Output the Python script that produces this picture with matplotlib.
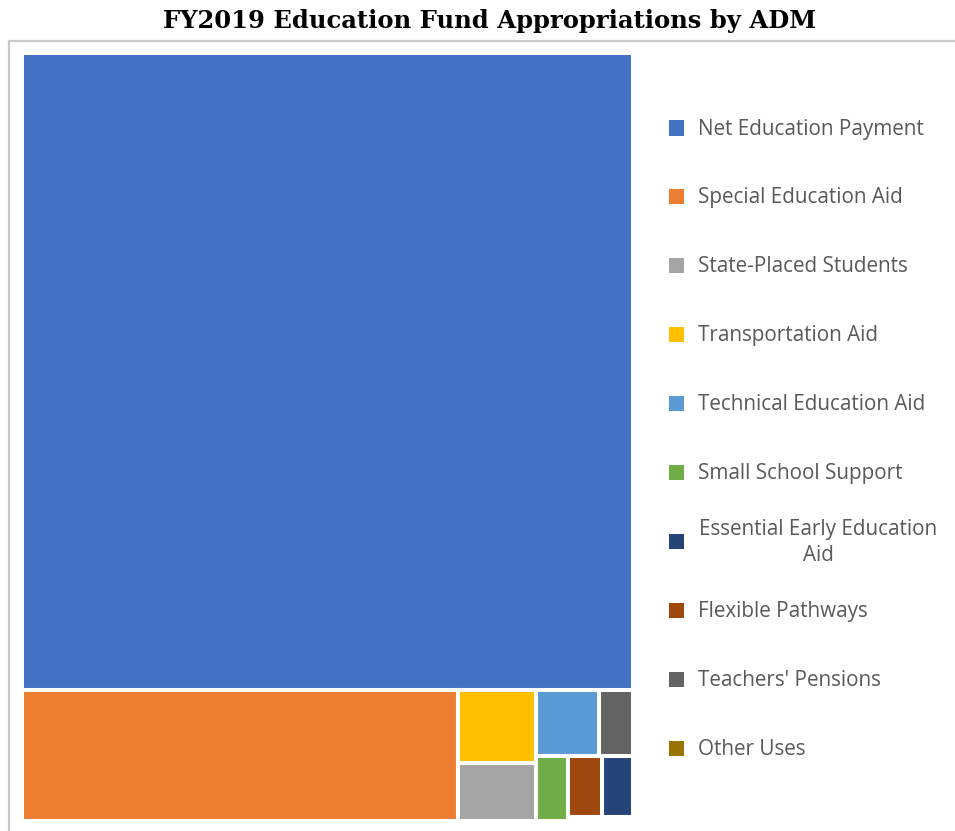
import matplotlib
matplotlib.use("Agg")
import matplotlib.pyplot as plt
from matplotlib.patches import Rectangle
from matplotlib.lines import Line2D

# ---- data (estimated, $ millions) ----
categories = [
    "Net Education Payment",
    "Special Education Aid",
    "State-Placed Students",
    "Transportation Aid",
    "Technical Education Aid",
    "Small School Support",
    "Essential Early Education Aid",
    "Flexible Pathways",
    "Teachers' Pensions",
    "Other Uses",
]
values = [1333.0, 194.4, 15.3, 19.5, 14.0, 7.1, 6.4, 7.2, 7.5, 0.66]
legend_labels = [
    "Net Education Payment",
    "Special Education Aid",
    "State-Placed Students",
    "Transportation Aid",
    "Technical Education Aid",
    "Small School Support",
    "Essential Early Education\nAid",
    "Flexible Pathways",
    "Teachers' Pensions",
    "Other Uses",
]
colors = ["#4472C4", "#ED7D31", "#A5A5A5", "#FFC000", "#5B9BD5",
          "#70AD47", "#264478", "#9E480E", "#636363", "#997300"]

# layout tree: ('v' = stack top->bottom, 'h' = left->right), leaves are indices
layout = ('v', [0,
                ('h', [1,
                       ('v', [3, 2]),
                       ('v', [('h', [4, 8]),
                              ('h', [5,
                                     ('v', [('h', [7, 6]), 9])])])])])


def total(node):
    if isinstance(node, int):
        return values[node]
    return sum(total(c) for c in node[1])


def place(node, x, y, w, h, out):
    if isinstance(node, int):
        out[node] = (x, y, w, h)
        return
    kind, children = node
    s = total(node)
    pos = 0.0
    for c in children:
        f = total(c) / s
        if kind == 'v':
            place(c, x, y + pos * h, w, f * h, out)
        else:
            place(c, x + pos * w, y, f * w, h, out)
        pos += f


rects = {}
place(layout, 0.0, 0.0, 1.0, 1.0, rects)

W, H = 955, 831
fig = plt.figure(figsize=(W / 100, H / 100), dpi=100)
fig.patch.set_facecolor("white")

# outer frame
fig.add_artist(Line2D([9 / W, 9 / W], [0, 1 - 41 / H], color="#C9C9C9", lw=1.6))
fig.add_artist(Line2D([9 / W, 1], [1 - 41 / H, 1 - 41 / H], color="#C9C9C9", lw=1.6))

# treemap axes
x0, x1 = 21.5, 632.5
y0, y1 = 52.5, 820.5
ax = fig.add_axes([x0 / W, 1 - y1 / H, (x1 - x0) / W, (y1 - y0) / H])
ax.set_xlim(0, 1)
ax.set_ylim(1, 0)
ax.axis("off")
for i in range(len(categories)):
    rx, ry, rw, rh = rects[i]
    ax.add_patch(Rectangle((rx, ry), rw, rh, facecolor=colors[i],
                           edgecolor="white", linewidth=2.9, clip_on=False))

# title
fig.text(490 / W, 1 - 21 / H, "FY2019 Education Fund Appropriations by ADM",
         ha="center", va="center", fontsize=17.5, fontweight="bold",
         family="DejaVu Serif", color="black")

# legend
top_y = 128
pitch = 68.9
fs = 14.9
for i, lab in enumerate(legend_labels):
    cy = top_y + i * pitch
    fig.add_artist(Rectangle(((676 - 7.5) / W, 1 - (cy + 7.5) / H), 15 / W, 15 / H,
                             facecolor=colors[i], edgecolor="none",
                             transform=fig.transFigure))
    if "\n" in lab:
        fig.text(818 / W, 1 - (cy + 1) / H, lab, ha="center", va="center",
                 multialignment="center", fontsize=fs, family="Open Sans",
                 color="#595959", linespacing=1.3)
    else:
        fig.text(698 / W, 1 - (cy + 1) / H, lab, ha="left", va="center",
                 fontsize=fs, family="Open Sans", color="#595959")

fig.savefig("out.png", dpi=100, facecolor="white")
